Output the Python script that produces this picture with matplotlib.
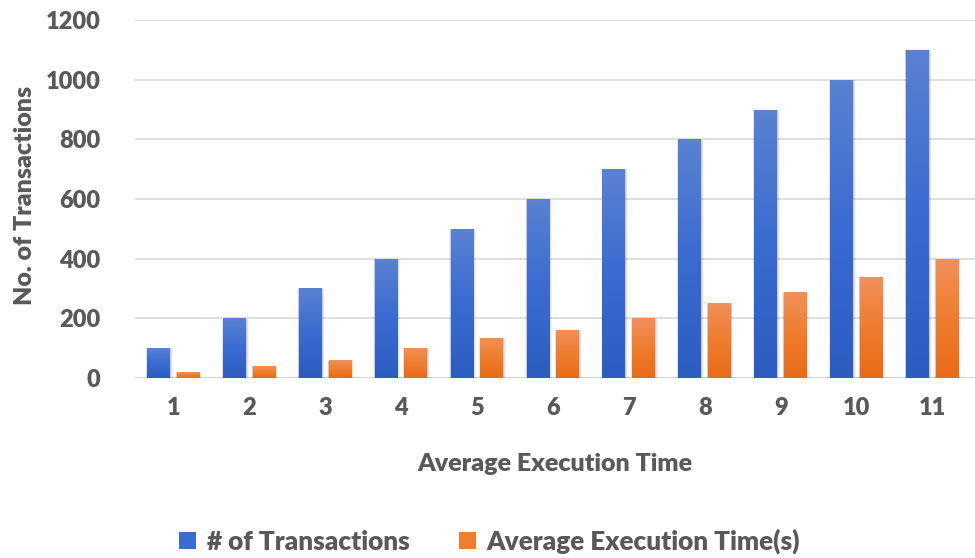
import numpy as np
import matplotlib.pyplot as plt
from matplotlib.patches import Rectangle
from matplotlib.colors import LinearSegmentedColormap

categories = [1, 2, 3, 4, 5, 6, 7, 8, 9, 10, 11]
transactions = [100, 200, 300, 400, 500, 600, 700, 800, 900, 1000, 1100]
exec_time = [20, 40, 60, 100, 135, 160, 200, 250, 287, 340, 400]

plt.rcParams['font.family'] = ['Lato', 'DejaVu Sans']
plt.rcParams['font.weight'] = 'heavy'
text_color = '#595959'

blue_cmap = LinearSegmentedColormap.from_list('b', ['#2b5cc0', '#3a6bd0', '#5a82d2'])
orange_cmap = LinearSegmentedColormap.from_list('o', ['#e86b17', '#ef7d2e', '#f1905a'])


def gradient_bars(ax, x, heights, width, cmap):
    bars = ax.bar(x, heights, width=width, color='none', edgecolor='none', zorder=3)
    grad = np.linspace(0, 1, 256).reshape(-1, 1)
    for b in bars:
        x0, y0 = b.get_x(), b.get_y()
        w, h = b.get_width(), b.get_height()
        # soft drop shadow
        for k, a in enumerate([0.10, 0.07, 0.04]):
            d = 0.012 * (k + 1)
            sh = Rectangle((x0 - d * 0.5, y0 - 4 * (k + 1)), w + d * 1.5, h + 3 * (k + 1),
                           facecolor='#000000', alpha=a, edgecolor='none', zorder=2)
            ax.add_patch(sh)
        im = ax.imshow(grad, cmap=cmap, aspect='auto', origin='lower',
                       extent=[x0, x0 + w, y0, y0 + h], zorder=3)
        im.set_clip_path(b)
    return bars


fig = plt.figure(figsize=(9.75, 5.58), dpi=100)
ax = fig.add_axes([0.1385, 0.3226, 0.8615, 0.6415])

x = np.array(categories, dtype=float)
width = 0.30
gradient_bars(ax, x - 0.2, transactions, width, blue_cmap)
gradient_bars(ax, x + 0.19, exec_time, width, orange_cmap)

ax.set_xlim(0.49, 11.56)
ax.set_ylim(0, 1200)
ax.set_yticks(range(0, 1201, 200))
ax.set_xticks(categories)
ax.set_xticklabels([str(c) for c in categories])
ax.grid(axis='y', color='#d9d9d9', linewidth=1.2, zorder=0)
ax.set_axisbelow(True)
for s in ax.spines.values():
    s.set_visible(False)
ax.axhline(0, color='#d0d0d0', linewidth=1.2, zorder=1)
ax.tick_params(axis='both', length=0, labelsize=17, labelcolor=text_color)
ax.tick_params(axis='y', pad=25)
ax.tick_params(axis='x', pad=14)

ax.set_xlabel('Average Execution Time', fontsize=18, color=text_color, fontweight='heavy', labelpad=24)
fig.text(0.026, 0.65, 'No. of Transactions', rotation=90, fontsize=18, color=text_color,
         fontweight='heavy', ha='center', va='center')

handles = [Rectangle((0, 0), 1, 1, facecolor='#3a6bd0'), Rectangle((0, 0), 1, 1, facecolor='#ef7d2e')]
fig.legend(handles, ['# of Transactions', 'Average Execution Time(s)'], loc='center',
           bbox_to_anchor=(0.502, 0.03), ncol=2, frameon=False, fontsize=18.8,
           labelcolor=text_color, handlelength=0.65, handleheight=0.65, handletextpad=0.4,
           columnspacing=1.9)

fig.savefig('out.png', dpi=100)
